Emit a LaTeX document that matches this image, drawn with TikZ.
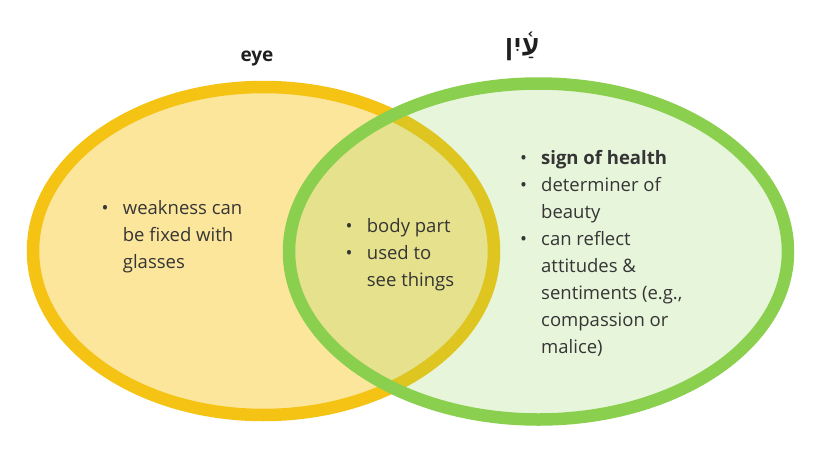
\documentclass[tikz,border=0pt]{standalone}
\usepackage{fontspec}
\setmainfont{Open Sans}
\newfontfamily\hebfont[Script=Hebrew]{Liberation Sans}
\TeXXeTstate=1
\definecolor{ystroke}{HTML}{F5C314}
\definecolor{yfill}{HTML}{FCE69C}
\definecolor{gstroke}{HTML}{8BCF4F}
\definecolor{txt}{HTML}{353535}
\newcommand\bul{\makebox[0pt]{\textcolor{txt}{•}}\hspace{17.7pt}}
\newcommand\ind{\hspace{17.7pt}}
\tikzset{
  block/.style={anchor=base west, inner sep=0pt, text=txt,
    font=\fontsize{18.5}{27}\selectfont},
  ttl/.style={inner sep=0pt, text=black!88},
}
\begin{document}
\begin{tikzpicture}[x=1pt,y=-1pt]
\useasboundingbox (0,0) rectangle (825,453);
\fill[white] (0,0) rectangle (825,453);
\coordinate (cl) at (263.5,251);
\coordinate (cr) at (538.5,251.5);
\draw[line width=12.5pt, draw=ystroke, fill=yfill] (cl) ellipse [x radius=230.5pt, y radius=164pt];
\fill[gstroke, fill opacity=0.2] (cr) ellipse [x radius=249.5pt, y radius=168pt];
\draw[line width=12.5pt, draw=gstroke] (cr) ellipse [x radius=249.5pt, y radius=168pt];
% titles
\node[ttl, font=\bfseries\fontsize{19}{22}\selectfont, anchor=base] (teye) at (257,61.5) {eye};
\node[ttl, font=\hebfont\bfseries\fontsize{28}{30}\selectfont, anchor=base] (theb) at (522,55.5) {\beginR עַ֫יִן\endR};
% left block
\node[block] (bl) at (105,214) {\begin{tabular}[t]{@{}l@{}}
\bul weakness can\\
\ind be fixed with\\
\ind glasses
\end{tabular}};
% middle block
\node[block] (bm) at (349,232.3) {\begin{tabular}[t]{@{}l@{}}
\bul body part\\
\bul used to\\
\ind see things
\end{tabular}};
% right block
\node[block] (br) at (523.3,164.3) {\begin{tabular}[t]{@{}l@{}}
\bul \textbf{sign of health}\\
\bul determiner of\\
\ind beauty\\
\bul can reflect\\
\ind attitudes \&\\
\ind sentiments (e.g.,\\
\ind compassion or\\
\ind malice)
\end{tabular}};
\end{tikzpicture}
\end{document}
